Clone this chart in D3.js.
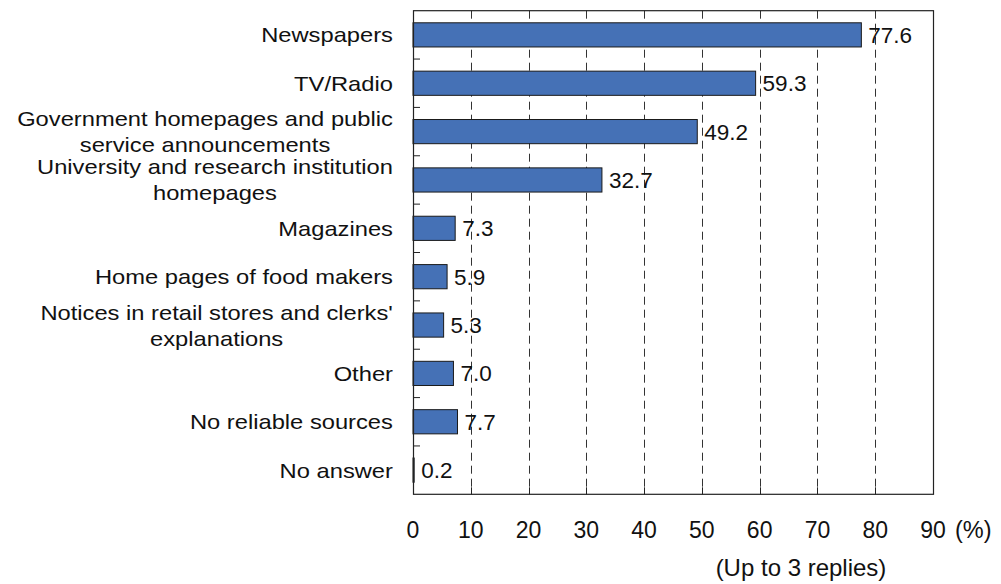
<!DOCTYPE html>
<html>
<head>
<meta charset="utf-8">
<script src="https://cdn.jsdelivr.net/npm/d3@7"></script>
<style>
  html, body { margin: 0; padding: 0; background: #fff; }
  svg { display: block; }
  text { font-family: "Liberation Sans", Arial, sans-serif; fill: #111; }
</style>
</head>
<body>
<svg id="chart" width="1001" height="584"></svg>
<script>
const categories = [
  ["Newspapers"],
  ["TV/Radio"],
  ["Government homepages and public", "service announcements"],
  ["University and research institution", "homepages"],
  ["Magazines"],
  ["Home pages of food makers"],
  ["Notices in retail stores and clerks'", "explanations"],
  ["Other"],
  ["No reliable sources"],
  ["No answer"]
];
const values = [77.6, 59.3, 49.2, 32.7, 7.3, 5.9, 5.3, 7.0, 7.7, 0.2];
const tickValues = [0, 10, 20, 30, 40, 50, 60, 70, 80, 90];
const unitLabel = "(%)";
const noteLabel = "(Up to 3 replies)";

const svg = d3.select("#chart");
const pLeft = 413, pRight = 933, pTop = 10.7, pBottom = 494.3;

const x = d3.scaleLinear().domain([0, 90]).range([pLeft, pRight]);
const ids = categories.map((d, i) => i);
const y = d3.scaleBand().domain(ids).range([pTop, pBottom]).paddingInner(0.5).paddingOuter(0.25);
const step = y.step();

// gridlines
svg.append("g").selectAll("line")
  .data(tickValues.filter(v => v > 0 && v < 90))
  .join("line")
  .attr("x1", d => Math.round(x(d)) + 0.5).attr("x2", d => Math.round(x(d)) + 0.5)
  .attr("y1", pTop).attr("y2", pBottom)
  .attr("stroke", "#333").attr("stroke-width", 1)
  .attr("stroke-dasharray", "8,5");

// bars
svg.append("g").selectAll("rect")
  .data(values)
  .join("rect")
  .attr("x", x(0))
  .attr("y", (d, i) => y(i))
  .attr("width", d => x(d) - x(0))
  .attr("height", y.bandwidth())
  .attr("fill", "#4571b6")
  .attr("stroke", "#1a1a1a")
  .attr("stroke-width", 1);

// frame
svg.append("rect")
  .attr("x", pLeft + 0.5).attr("y", pTop)
  .attr("width", pRight - pLeft).attr("height", pBottom - pTop)
  .attr("fill", "none").attr("stroke", "#222").attr("stroke-width", 1.2);

// y inner ticks at band boundaries
svg.append("g").selectAll("line")
  .data(d3.range(1, categories.length))
  .join("line")
  .attr("x1", pLeft).attr("x2", pLeft + 7)
  .attr("y1", d => pTop + d * step).attr("y2", d => pTop + d * step)
  .attr("stroke", "#222").attr("stroke-width", 1);

// x inner ticks
svg.append("g").selectAll("line")
  .data(tickValues.filter(v => v > 0 && v < 90))
  .join("line")
  .attr("x1", d => Math.round(x(d)) + 0.5).attr("x2", d => Math.round(x(d)) + 0.5)
  .attr("y1", pBottom).attr("y2", pBottom - 7)
  .attr("stroke", "#222").attr("stroke-width", 1);

// x tick labels
svg.append("g").selectAll("text")
  .data(tickValues)
  .join("text")
  .attr("x", d => x(d)).attr("y", 538)
  .attr("text-anchor", "middle")
  .style("font-size", "23px")
  .text(d => d);

svg.append("text")
  .attr("x", 955).attr("y", 538)
  .style("font-size", "23.5px")
  .text(unitLabel);

svg.append("text")
  .attr("x", 801).attr("y", 576)
  .attr("text-anchor", "middle")
  .style("font-size", "24px")
  .text(noteLabel);

// value labels
svg.append("g").selectAll("text")
  .data(values)
  .join("text")
  .attr("x", d => x(d) + 7)
  .attr("y", (d, i) => y(i) + y.bandwidth() / 2 + 8)
  .style("font-size", "22.5px")
  .text(d => d.toFixed(1));

// category labels
const sx = 1.13, lineH = 26, labelRight = 393;
const cat = svg.append("g");
categories.forEach((lines, i) => {
  const cy = y(i) + y.bandwidth() / 2;
  const g = cat.append("g");
  const texts = lines.map((ln, j) => g.append("text")
    .style("font-size", "21px")
    .attr("text-anchor", "middle")
    .text(ln));
  const widths = texts.map(t => t.node().getComputedTextLength() * sx);
  const maxW = d3.max(widths);
  const cx = labelRight - maxW / 2;
  const n = lines.length;
  texts.forEach((t, j) => {
    const ly = cy + (j - (n - 1) / 2) * lineH + 7.5;
    t.attr("transform", `translate(${cx},${ly}) scale(${sx},1)`);
  });
});
</script>
</body>
</html>
